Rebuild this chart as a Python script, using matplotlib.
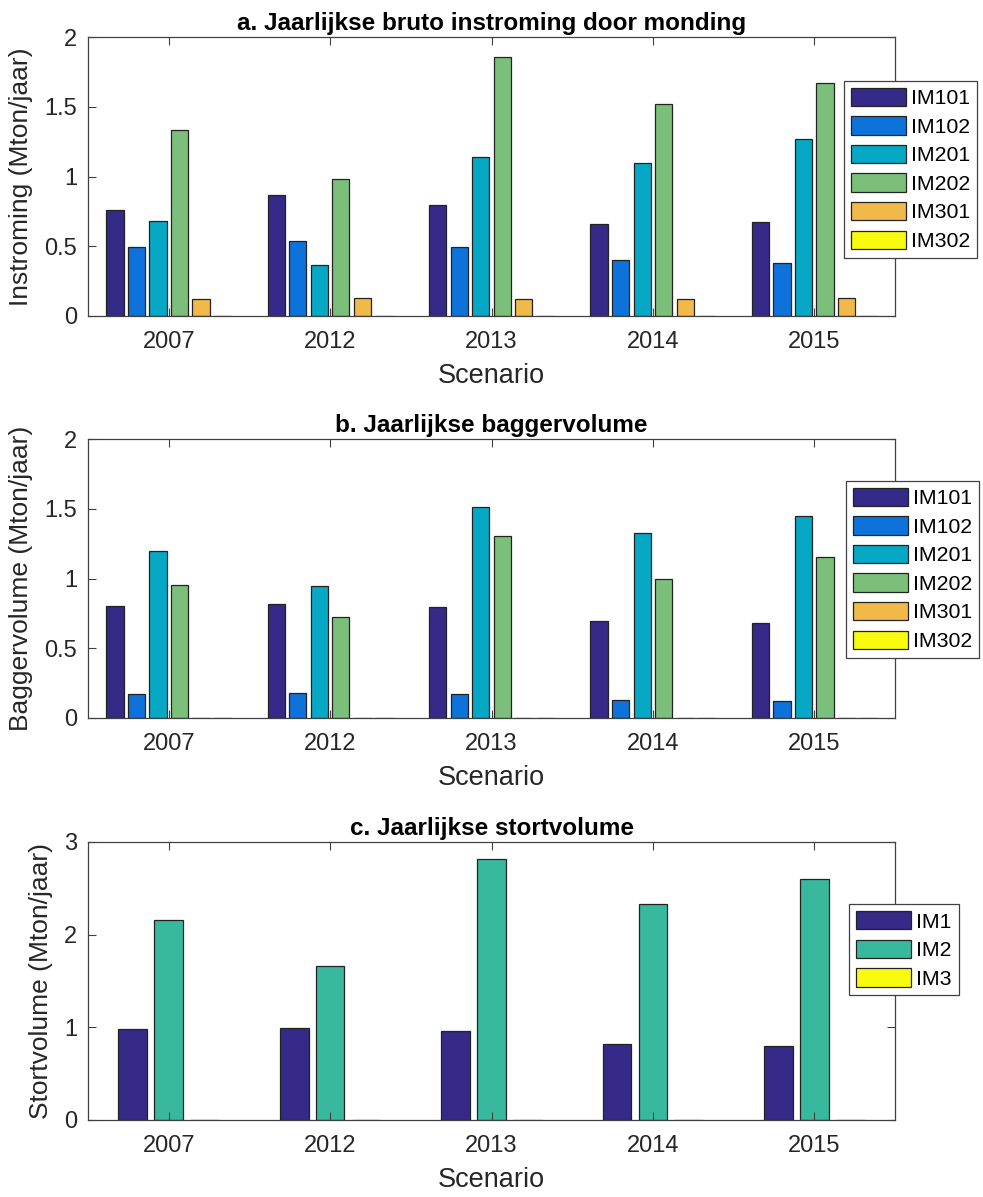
import numpy as np
import matplotlib
matplotlib.use('Agg')
import matplotlib.pyplot as plt

plt.rcParams['font.family'] = ['Liberation Sans', 'DejaVu Sans']

# scenario years
years = ['2007', '2012', '2013', '2014', '2015']

# a. bruto instroming door monding (Mton/jaar)
im_names6 = ['IM101', 'IM102', 'IM201', 'IM202', 'IM301', 'IM302']
instr_im101 = [0.76, 0.87, 0.796, 0.66, 0.672]
instr_im102 = [0.497, 0.54, 0.492, 0.40, 0.378]
instr_im201 = [0.683, 0.366, 1.14, 1.10, 1.269]
instr_im202 = [1.333, 0.985, 1.857, 1.518, 1.672]
instr_im301 = [0.124, 0.127, 0.125, 0.125, 0.129]
instr_im302 = [0, 0, 0, 0, 0]

# b. baggervolume (Mton/jaar)
bag_im101 = [0.805, 0.819, 0.793, 0.695, 0.683]
bag_im102 = [0.168, 0.18, 0.168, 0.125, 0.12]
bag_im201 = [1.195, 0.944, 1.511, 1.325, 1.447]
bag_im202 = [0.955, 0.721, 1.307, 1.0, 1.154]
bag_im301 = [0, 0, 0, 0, 0]
bag_im302 = [0, 0, 0, 0, 0]

# c. stortvolume (Mton/jaar)
im_names3 = ['IM1', 'IM2', 'IM3']
stort_im1 = [0.979, 0.996, 0.96, 0.823, 0.802]
stort_im2 = [2.155, 1.665, 2.82, 2.334, 2.604]
stort_im3 = [0, 0, 0, 0, 0]

colors6 = ['#352a87', '#0d73da', '#06a8c5', '#7cbf7b', '#f1b94a', '#f9fb0e']
colors3 = ['#352a87', '#38b99e', '#f9fb0e']

W, H = 983, 1197
fig = plt.figure(figsize=(W/100, H/100), dpi=100)

def grouped(ax, series, names, cols, ylim, yticks, ylabel, title, leg_xy):
    n = len(series)
    x = np.arange(1, len(years)+1)
    gw = min(0.8, n/(n+1.5))   # matlab style group width
    pitch = gw/n
    for i, (vals, nm, c) in enumerate(zip(series, names, cols)):
        off = (i - (n-1)/2)*pitch
        ax.bar(x+off, vals, width=pitch*0.8, color=c, edgecolor='#222222',
               linewidth=0.9, label=nm)
    ax.set_xlim(0.5, 5.5)
    ax.set_ylim(*ylim)
    ax.set_xticks(x)
    ax.set_xticklabels(years)
    ax.set_yticks(yticks)
    ax.set_yticklabels([('%g' % t) for t in yticks])
    ax.tick_params(direction='in', top=True, right=True, length=6,
                   width=0.8, color='#404040', labelsize=17,
                   labelcolor='#262626')
    ax.tick_params(axis='x', pad=11)
    ax.tick_params(axis='y', pad=8)
    for s in ax.spines.values():
        s.set_color('#404040')
        s.set_linewidth(0.9)
    ax.set_xlabel('Scenario', fontsize=19.5, color='#262626', labelpad=7)
    ax.set_ylabel(ylabel, fontsize=19, color='#262626', labelpad=8)
    ax.set_title(title, fontsize=17.5, fontweight='bold', pad=5)
    leg = ax.legend(loc='upper left', bbox_to_anchor=leg_xy,
                    bbox_transform=fig.transFigure, fontsize=15.3,
                    fancybox=False, edgecolor='#404040', framealpha=1,
                    handlelength=2.6, handleheight=0.95, labelspacing=0.38,
                    handletextpad=0.25, borderpad=0.32, borderaxespad=0)
    leg.get_frame().set_linewidth(0.9)

ax1 = fig.add_axes([88/W, 1-316/H, 807/W, 279/H])
grouped(ax1, [instr_im101, instr_im102, instr_im201, instr_im202, instr_im301, instr_im302],
        im_names6, colors6, (0, 2), [0, 0.5, 1, 1.5, 2],
        'Instroming (Mton/jaar)', 'a. Jaarlijkse bruto instroming door monding',
        (844/W, 1-81/H))

ax2 = fig.add_axes([88/W, 1-717.7/H, 807/W, 278.4/H])
grouped(ax2, [bag_im101, bag_im102, bag_im201, bag_im202, bag_im301, bag_im302],
        im_names6, colors6, (0, 2), [0, 0.5, 1, 1.5, 2],
        'Baggervolume (Mton/jaar)', 'b. Jaarlijkse baggervolume',
        (846/W, 1-481/H))

ax3 = fig.add_axes([88/W, 1-1120/H, 807/W, 278/H])
grouped(ax3, [stort_im1, stort_im2, stort_im3],
        im_names3, colors3, (0, 3), [0, 1, 2, 3],
        'Stortvolume (Mton/jaar)', 'c. Jaarlijkse stortvolume',
        (849/W, 1-904.3/H))

plt.savefig('out.png', dpi=100)
